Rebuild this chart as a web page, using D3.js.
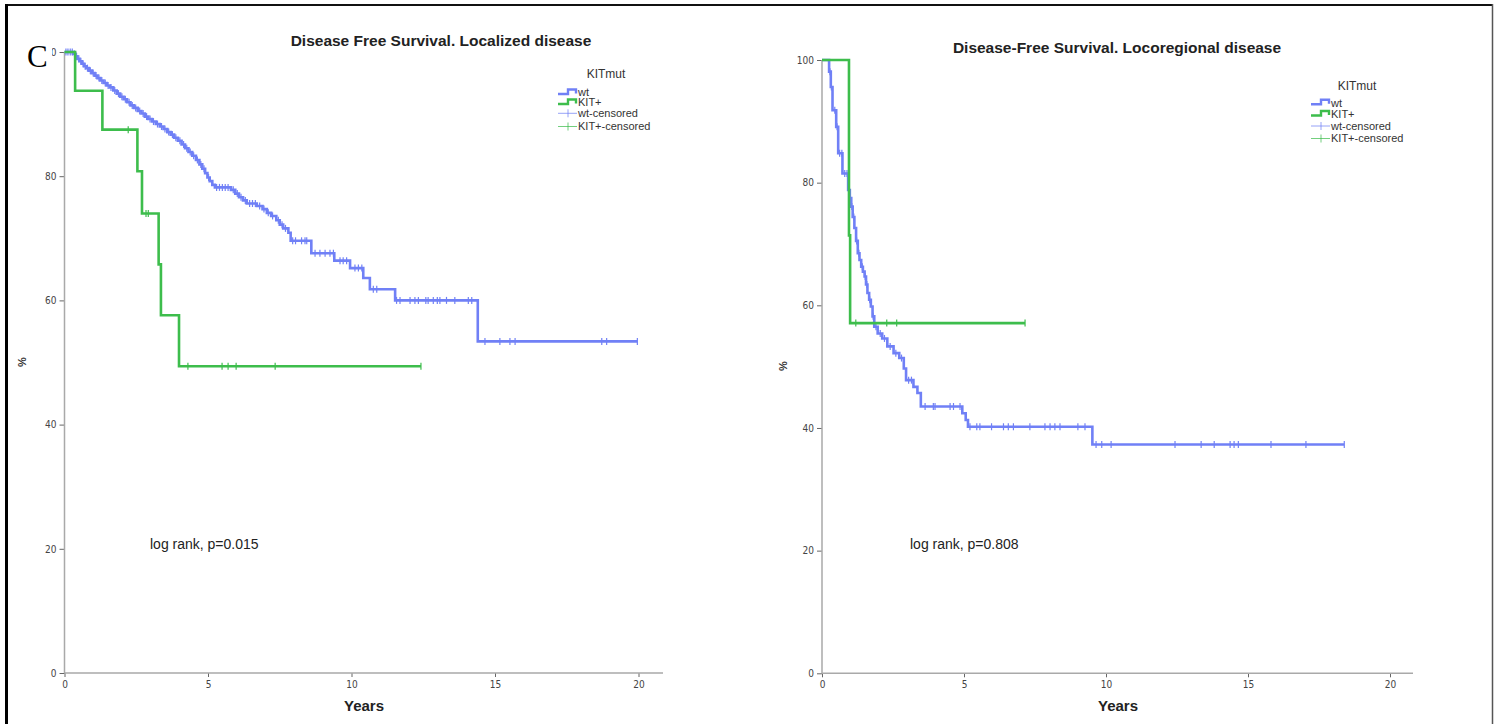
<!DOCTYPE html>
<html>
<head>
<meta charset="utf-8">
<script src="https://cdn.jsdelivr.net/npm/d3@7"></script>
<style>
  html, body { margin: 0; padding: 0; background: #fff; }
  svg { display: block; }
  .tick text { font-family: "Liberation Sans Narrow", "DejaVu Sans Condensed", "Liberation Sans", sans-serif; font-size: 10px; fill: #444; }
  .tick line { stroke: #666; }
</style>
</head>
<body>
<svg id="chart" width="1494" height="724"></svg>
<script>
// ---- Data: Kaplan–Meier steps [years, % disease free] and censored times ----
const xTickValues = [0, 5, 10, 15, 20];
const yTickValues = [0, 20, 40, 60, 80, 100];
const groupNames = ["wt", "KIT+", "wt-censored", "KIT+-censored"];
const legendTitle = "KITmut";

// Localized disease
const locTitle = "Disease Free Survival. Localized disease";
const locPValue = "log rank, p=0.015";
const locWtSteps = [
  [0.30, 99.7], [0.38, 99.3], [0.45, 98.9], [0.52, 98.5], [0.60, 98.1], [0.68, 97.7],
  [0.76, 97.4], [0.85, 97.0], [0.95, 96.6], [1.05, 96.2], [1.15, 95.8], [1.25, 95.4],
  [1.36, 95.0], [1.47, 94.6], [1.58, 94.3], [1.70, 93.8], [1.82, 93.3], [1.94, 92.8],
  [2.06, 92.4], [2.18, 91.9], [2.30, 91.4], [2.42, 91.0], [2.55, 90.5], [2.68, 90.1],
  [2.80, 89.6], [2.92, 89.2], [3.05, 88.8], [3.18, 88.4], [3.32, 88.0], [3.45, 87.6],
  [3.58, 87.1], [3.70, 86.7], [3.82, 86.2], [3.95, 85.7], [4.08, 85.1], [4.20, 84.5],
  [4.32, 83.9], [4.45, 83.3], [4.58, 82.6], [4.70, 81.9], [4.80, 81.2], [4.90, 80.5],
  [4.98, 79.8], [5.06, 79.2], [5.15, 78.6], [5.24, 78.2], [5.80, 77.8], [5.95, 77.2],
  [6.08, 76.6], [6.22, 76.1], [6.35, 75.6], [6.70, 75.2], [6.90, 74.7], [7.05, 74.1],
  [7.20, 73.6], [7.38, 72.9], [7.50, 72.2], [7.62, 71.6], [7.80, 70.9], [7.88, 69.6],
  [8.60, 67.6], [9.40, 66.4], [9.95, 65.2], [10.41, 63.6], [10.64, 61.8], [11.52, 60.0],
  [14.40, 53.4]
];
const locWtCensored = [
  0.05, 0.12, 0.20, 0.27, 0.35, 0.42, 0.50, 0.57, 0.65, 0.72, 0.80, 0.90, 1.00, 1.10,
  1.20, 1.30, 1.42, 1.52, 1.62, 1.75, 1.88, 2.00, 2.12, 2.25, 2.36, 2.48, 2.62, 2.74,
  2.86, 2.98, 3.10, 3.24, 3.38, 3.50, 3.63, 3.76, 3.88, 4.02, 4.15, 4.26, 4.38, 4.50,
  4.63, 4.75, 4.86, 5.02, 5.30, 5.40, 5.50, 5.60, 5.70, 5.88, 6.02, 6.15, 6.30, 6.45,
  6.55, 6.65, 6.80, 6.95, 7.10, 7.25, 7.45, 7.58, 7.70, 7.95, 8.05, 8.26, 8.38, 8.44,
  8.73, 8.90, 9.08, 9.25, 9.37, 9.60, 9.71, 9.83, 10.12, 10.24, 10.36, 10.76, 10.88,
  11.57, 11.69, 12.04, 12.21, 12.33, 12.59, 12.67, 12.85, 12.99, 13.08, 13.31, 13.60,
  14.07, 14.19, 14.65, 15.17, 15.52, 15.70, 18.72, 18.89, 19.96
];
const locKitSteps = [
  [0.37, 93.75], [1.32, 87.5], [2.54, 80.8], [2.70, 74.0], [3.28, 65.8], [3.36, 57.6], [3.99, 49.4]
];
const locKitCensored = [2.22, 2.84, 2.92, 4.30, 5.49, 5.70, 5.98, 7.34, 12.42];

// Locoregional disease
const regTitle = "Disease-Free Survival. Locoregional disease";
const regPValue = "log rank, p=0.808";
const regWtSteps = [
  [0.25, 98.1], [0.31, 95.6], [0.37, 91.8], [0.50, 89.1], [0.57, 84.8], [0.72, 81.5],
  [0.92, 78.8], [0.98, 77.5], [1.03, 76.1], [1.08, 74.4], [1.14, 72.6], [1.20, 70.5],
  [1.26, 68.5], [1.32, 67.4], [1.38, 66.3], [1.44, 65.5], [1.50, 64.7], [1.55, 63.4],
  [1.60, 62.0], [1.66, 60.9], [1.72, 59.8], [1.78, 58.2], [1.84, 56.5], [1.96, 55.4],
  [2.12, 54.6], [2.30, 53.3], [2.52, 52.2], [2.72, 51.4], [2.88, 49.7], [2.96, 47.8],
  [3.22, 46.7], [3.36, 45.7], [3.48, 43.5], [4.94, 42.4], [5.06, 41.3], [5.14, 40.2],
  [9.52, 37.3]
];
const regWtCensored = [
  0.28, 0.33, 0.45, 0.53, 0.62, 0.70, 0.80, 0.88, 0.95, 1.05, 1.12, 1.22, 1.30, 1.42,
  1.52, 1.58, 1.68, 1.80, 1.90, 2.05, 2.20, 2.40, 2.60, 2.80, 3.05, 3.15, 3.63, 3.92,
  3.98, 4.51, 4.63, 4.86, 5.21, 5.45, 5.56, 5.97, 6.39, 6.56, 6.74, 7.32, 7.85, 8.03,
  8.20, 8.38, 9.01, 9.26, 9.65, 9.85, 10.18, 12.43, 13.35, 13.81, 14.37, 14.51, 14.66,
  15.81, 17.04, 18.39
];
const regKitSteps = [[0.95, 71.4], [0.99, 57.1]];
const regKitCensored = [1.19, 2.28, 2.63, 7.15];

// ---- Drawing ----
const BLUE = "#7080f6";
const GREEN = "#3dbd4c";
const AXIS = "#a9a9a9";

const svg = d3.select("#chart");

// frame
svg.append("line").attr("x1", 6).attr("x2", 1493).attr("y1", 5).attr("y2", 5)
  .attr("stroke", "#111").attr("stroke-width", 2);
svg.append("line").attr("x1", 6.5).attr("x2", 6.5).attr("y1", 4).attr("y2", 724)
  .attr("stroke", "#000").attr("stroke-width", 3);
svg.append("line").attr("x1", 1492.5).attr("x2", 1492.5).attr("y1", 4).attr("y2", 724)
  .attr("stroke", "#555").attr("stroke-width", 1.5);

function survivalAt(steps, t) {
  let s = 100;
  for (const [st, sv] of steps) { if (st <= t) s = sv; }
  return s;
}

function drawPanel(p) {
  const x = d3.scaleLinear().domain([0, 20]).range([p.x0, p.x20]);
  const y = d3.scaleLinear().domain([0, 100]).range([p.y0, p.y100]);
  const g = svg.append("g");

  // y axis
  const ya = g.append("g").attr("transform", `translate(${p.x0},0)`)
    .call(d3.axisLeft(y).tickValues(yTickValues).tickSize(5).tickPadding(3).tickSizeOuter(0));
  ya.select(".domain").remove();
  g.append("line").attr("x1", p.x0).attr("x2", p.x0).attr("y1", p.y100).attr("y2", p.y0)
    .attr("stroke", AXIS).attr("stroke-width", 1.5);

  // x axis
  const xa = g.append("g").attr("transform", `translate(0,${p.y0})`)
    .call(d3.axisBottom(x).tickValues(xTickValues).tickSize(4).tickPadding(4).tickSizeOuter(0));
  xa.select(".domain").remove();
  g.append("line").attr("x1", p.x0).attr("x2", p.xEnd).attr("y1", p.y0).attr("y2", p.y0)
    .attr("stroke", AXIS).attr("stroke-width", 1.5);

  const line = d3.line().x(d => x(d[0])).y(d => y(d[1])).curve(d3.curveStepAfter);

  function series(steps, censored, color) {
    const end = d3.max(censored.concat(steps.map(d => d[0])));
    const pts = [[0, 100], ...steps, [end, steps[steps.length - 1][1]]];
    g.append("path").datum(pts).attr("d", line)
      .attr("fill", "none").attr("stroke", color).attr("stroke-width", 2.6)
      .attr("stroke-linejoin", "miter");
    g.append("g").selectAll("line").data(censored).join("line")
      .attr("x1", d => x(d)).attr("x2", d => x(d))
      .attr("y1", d => y(survivalAt(steps, d)) - 3.5)
      .attr("y2", d => y(survivalAt(steps, d)) + 3.5)
      .attr("stroke", color).attr("stroke-width", 1.2);
  }
  series(p.wtSteps, p.wtCens, BLUE);
  series(p.kitSteps, p.kitCens, GREEN);

  // titles
  g.append("text").attr("x", p.titleX).attr("y", p.titleY).attr("text-anchor", "middle")
    .attr("font-family", "Liberation Sans, Arial, sans-serif").attr("font-weight", "bold")
    .attr("font-size", 15.5).attr("fill", "#222").text(p.title);
  g.append("text").attr("x", p.yearsX).attr("y", 711).attr("text-anchor", "middle")
    .attr("font-family", "Liberation Sans, Arial, sans-serif").attr("font-weight", "bold")
    .attr("font-size", 15).attr("fill", "#222").text("Years");
  g.append("text").attr("transform", `translate(${p.pctX},${p.pctY}) rotate(-90)`)
    .attr("text-anchor", "middle").attr("dy", "0.35em")
    .attr("font-family", "Liberation Sans, Arial, sans-serif").attr("font-weight", "bold")
    .attr("font-size", 11).attr("fill", "#333").text("%");
  g.append("text").attr("x", p.pX).attr("y", 549)
    .attr("font-family", "Liberation Sans, Arial, sans-serif")
    .attr("font-size", 14).attr("fill", "#222").text(p.pValue);

  // legend
  const lg = g.append("g").attr("font-family", "Liberation Sans, Arial, sans-serif")
    .attr("font-size", 11).attr("fill", "#333");
  lg.append("text").attr("x", p.legTitleX).attr("y", p.legTitleY).attr("text-anchor", "middle")
    .attr("font-size", 12).text(legendTitle);
  const lx = p.legX;
  const colors = [BLUE, GREEN, BLUE, GREEN];
  groupNames.forEach((name, i) => {
    const cy = p.legRows[i];
    if (i < 2) {
      lg.append("path")
        .attr("d", `M${lx},${cy + 1.5}H${lx + 10}V${cy - 3}H${lx + 18}V${cy + 1}`)
        .attr("fill", "none").attr("stroke", colors[i]).attr("stroke-width", 2.4);
    } else {
      lg.append("line").attr("x1", lx).attr("x2", lx + 19).attr("y1", cy).attr("y2", cy)
        .attr("stroke", colors[i]).attr("stroke-width", 0.9).attr("opacity", 0.8);
      lg.append("line").attr("x1", lx + 10).attr("x2", lx + 10).attr("y1", cy - 4).attr("y2", cy + 4)
        .attr("stroke", colors[i]).attr("stroke-width", 0.9).attr("opacity", 0.8);
    }
    lg.append("text").attr("x", lx + 20).attr("y", cy).attr("dy", "0.35em").text(name);
  });
  return g;
}

drawPanel({
  x0: 64.5, x20: 638.5, xEnd: 663, y0: 673, y100: 52,
  wtSteps: locWtSteps, wtCens: locWtCensored, kitSteps: locKitSteps, kitCens: locKitCensored,
  title: locTitle, titleX: 441, titleY: 46, yearsX: 364, pctX: 22, pctY: 362,
  pValue: locPValue, pX: 150,
  legTitleX: 606, legTitleY: 78, legX: 558, legRows: [92.5, 102.5, 113.3, 126.5]
});

drawPanel({
  x0: 822, x20: 1390, xEnd: 1413, y0: 673.3, y100: 60,
  wtSteps: regWtSteps, wtCens: regWtCensored, kitSteps: regKitSteps, kitCens: regKitCensored,
  title: regTitle, titleX: 1117, titleY: 53, yearsX: 1118, pctX: 783, pctY: 366,
  pValue: regPValue, pX: 910,
  legTitleX: 1357, legTitleY: 90, legX: 1311, legRows: [102.7, 114, 126, 138.5]
});

// panel letter, drawn on a white patch over the corner of the left axis labels
svg.append("rect").attr("x", 20).attr("y", 36).attr("width", 32).attr("height", 34).attr("fill", "#fff");
svg.append("text").attr("x", 27).attr("y", 67)
  .attr("font-family", "Liberation Serif, Times New Roman, serif")
  .attr("font-size", 31).attr("fill", "#000").text("C");
</script>
</body>
</html>
